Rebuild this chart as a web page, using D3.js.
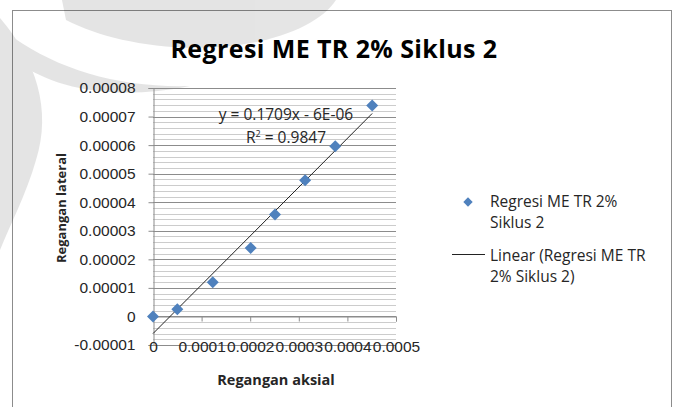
<!DOCTYPE html>
<html>
<head>
<meta charset="utf-8">
<script src="https://cdn.jsdelivr.net/npm/d3@7"></script>
<style>
  body { margin: 0; background: #fff; }
  svg { display: block; font-family: "Open Sans", "DejaVu Sans", sans-serif; }
</style>
</head>
<body>
<div id="chart"></div>
<script>
// chart size
var width = 676;
var height = 407;

// data
var axialStrain = [0, 0.00005, 0.000123, 0.000201, 0.000251, 0.000313, 0.000375, 0.000451];
var lateralStrain = [0, 0.0000025, 0.000012, 0.000024, 0.0000357, 0.0000477, 0.0000596, 0.0000739];
var slope = 0.1709;
var intercept = -0.000006;

var xTicks = [0, 0.0001, 0.0002, 0.0003, 0.0004, 0.0005];
var xTickLabels = ['0', '0.0001', '0.0002', '0.0003', '0.0004', '0.0005'];
var yTicks = [-0.00001, 0, 0.00001, 0.00002, 0.00003, 0.00004, 0.00005, 0.00006, 0.00007, 0.00008];
var yTickLabels = ['-0.00001', '0', '0.00001', '0.00002', '0.00003', '0.00004', '0.00005', '0.00006', '0.00007', '0.00008'];

var title = 'Regresi ME TR 2% Siklus 2';
var seriesName = ['Regresi ME TR 2%', 'Siklus 2'];
var trendName = ['Linear (Regresi ME TR', '2% Siklus 2)'];

var svg = d3.select('#chart')
  .append('svg')
  .attr('width', width)
  .attr('height', height);

// chart frame
svg.append('rect')
  .attr('x', 12.5).attr('y', 10.5)
  .attr('width', 659).attr('height', 420)
  .attr('fill', '#fff')
  .attr('stroke', '#8c8c8c');

// faint watermark in the corner
var wm = svg.append('g').attr('fill', '#000').attr('opacity', 0.1);
wm.append('path').attr('d', 'M62,0 L336,0 C318,28 262,48 196,48 C140,47 98,36 66,20 Z');
wm.append('path').attr('d', 'M0,18 C36,60 52,110 36,160 C26,195 10,225 0,250 Z');
wm.append('path').attr('d', 'M14,38 C60,70 120,88 190,86 C120,100 58,92 14,60 Z');

var x = d3.scaleLinear().domain([0, 0.0005]).range([153, 396]);
var y = d3.scaleLinear().domain([-0.00001, 0.00008]).range([345, 88]);

// minor gridlines
svg.append('g')
  .selectAll('line')
  .data(d3.range(-0.00001, 0.0000801, 0.000002))
  .join('line')
  .attr('x1', x(0)).attr('x2', x(0.0005))
  .attr('y1', d => Math.round(y(d)) + 0.5)
  .attr('y2', d => Math.round(y(d)) + 0.5)
  .attr('stroke', '#cccccc');

// major gridlines
svg.append('g')
  .selectAll('line')
  .data(yTicks)
  .join('line')
  .attr('x1', x(0)).attr('x2', x(0.0005))
  .attr('y1', d => Math.round(y(d)) + 0.5)
  .attr('y2', d => Math.round(y(d)) + 0.5)
  .attr('stroke', '#8c8c8c');

// y axis
var yAxis = svg.append('g')
  .attr('transform', 'translate(' + (x(0) + 0.5) + ',0)')
  .call(d3.axisLeft(y)
    .tickValues(yTicks)
    .tickSize(5)
    .tickPadding(13)
    .tickFormat((d, i) => yTickLabels[i]));

// x axis at y = 0
var xAxis = svg.append('g')
  .attr('transform', 'translate(0,' + (Math.round(y(0)) + 0.5) + ')')
  .call(d3.axisBottom(x)
    .tickValues(xTicks)
    .tickSize(5)
    .tickFormat((d, i) => xTickLabels[i]));

// x labels sit at the bottom of the plot area
xAxis.selectAll('text')
  .attr('y', y(-0.00001) - y(0) - 4)
  .attr('dy', 0)
  .attr('dominant-baseline', 'hanging');

[xAxis, yAxis].forEach(function(a) {
  a.select('.domain').attr('stroke', '#8c8c8c');
  a.selectAll('.tick line').attr('stroke', '#8c8c8c');
  a.selectAll('text')
    .attr('fill', '#262626')
    .style('font-size', '15.5px');
});

// trendline
svg.append('line')
  .attr('x1', x(0)).attr('y1', y(intercept))
  .attr('x2', x(d3.max(axialStrain)))
  .attr('y2', y(slope * d3.max(axialStrain) + intercept))
  .attr('stroke', '#222')
  .attr('stroke-width', 1);

// points
var diamond = d3.symbol().type(d3.symbolSquare).size(72);
svg.append('g')
  .selectAll('path')
  .data(axialStrain)
  .join('path')
  .attr('d', diamond)
  .attr('transform', (d, i) => 'translate(' + x(d) + ',' + y(lateralStrain[i]) + ') rotate(45)')
  .attr('fill', '#4f81bd');

// equation
var eq = svg.append('text')
  .attr('text-anchor', 'middle')
  .attr('fill', '#262626')
  .style('font-size', '15.5px');
eq.append('tspan').attr('x', 286).attr('y', 120).text('y = ' + slope + 'x - 6E-06');
var r2 = svg.append('text')
  .attr('x', 286).attr('y', 143)
  .attr('text-anchor', 'middle')
  .attr('fill', '#262626')
  .style('font-size', '15.5px');
r2.append('tspan').text('R');
r2.append('tspan').attr('dy', -6).style('font-size', '9px').text('2');
r2.append('tspan').attr('dy', 6).text(' = 0.9847');

// title
svg.append('text')
  .attr('x', 334).attr('y', 58)
  .attr('text-anchor', 'middle')
  .style('font-size', '25px')
  .style('font-weight', 'bold')
  .style('letter-spacing', '0.4px')
  .attr('fill', '#000')
  .text(title);

// axis titles
svg.append('text')
  .attr('x', 276).attr('y', 385)
  .attr('text-anchor', 'middle')
  .style('font-size', '14.5px')
  .style('font-weight', 'bold')
  .attr('fill', '#262626')
  .text('Regangan aksial');

svg.append('text')
  .attr('transform', 'translate(66,208) rotate(-90)')
  .attr('text-anchor', 'middle')
  .style('font-size', '13px')
  .style('font-weight', 'bold')
  .attr('fill', '#262626')
  .text('Regangan lateral');

// legend
var legend = svg.append('g').attr('fill', '#262626').style('font-size', '15.5px');
legend.append('path')
  .attr('d', d3.symbol().type(d3.symbolSquare).size(44))
  .attr('transform', 'translate(468,202) rotate(45)')
  .attr('fill', '#4f81bd');
legend.selectAll('text.s')
  .data(seriesName)
  .join('text')
  .attr('class', 's')
  .attr('x', 490)
  .attr('y', (d, i) => 207 + i * 21)
  .text(d => d);
legend.append('line')
  .attr('x1', 452).attr('x2', 485)
  .attr('y1', 254.5).attr('y2', 254.5)
  .attr('stroke', '#222');
legend.selectAll('text.t')
  .data(trendName)
  .join('text')
  .attr('class', 't')
  .attr('x', 490)
  .attr('y', (d, i) => 261 + i * 21)
  .text(d => d);
</script>
</body>
</html>
